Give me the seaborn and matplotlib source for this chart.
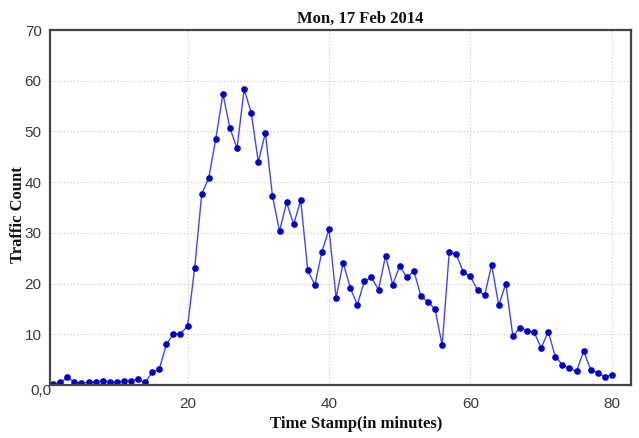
import matplotlib
matplotlib.use("Agg")
import matplotlib.pyplot as plt
import seaborn as sns
import pandas as pd

# Traffic count per minute, Mon 17 Feb 2014
minutes = list(range(1, 81))
traffic = [
    0.2, 0.5, 1.5, 0.6, 0.3, 0.6, 0.55, 0.85, 0.55, 0.55,
    0.8, 0.85, 1.1, 0.5, 2.5, 3.1, 8.0, 10.1, 10.1, 11.6,
    23.0, 37.6, 40.9, 48.6, 57.4, 50.6, 46.7, 58.3, 53.7, 44.0,
    49.7, 37.3, 30.3, 36.0, 31.7, 36.4, 22.6, 19.7, 26.3, 30.7,
    17.2, 24.1, 19.2, 15.8, 20.5, 21.2, 18.8, 25.5, 19.8, 23.5,
    21.2, 22.5, 17.5, 16.4, 14.9, 7.8, 26.2, 25.8, 22.2, 21.4,
    18.7, 17.7, 23.7, 15.7, 20.0, 9.6, 11.3, 10.7, 10.4, 7.3,
    10.5, 5.6, 4.0, 3.3, 2.7, 6.7, 3.0, 2.4, 1.6, 2.0,
]
x_ticks = [20, 40, 60, 80]
y_ticks = [10, 20, 30, 40, 50, 60, 70]

df = pd.DataFrame({"minute": minutes, "count": traffic})

sns.set_theme(style="white")
plt.rcParams["font.family"] = ["Liberation Sans", "DejaVu Sans"]

fig = plt.figure(figsize=(6.39, 4.38), dpi=100)
ax = fig.add_axes([50 / 639, 1 - 385 / 438, 581 / 639, 355 / 438])

sns.lineplot(
    data=df, x="minute", y="count", ax=ax,
    color="#4646e6", linewidth=1.0,
    marker="o", markersize=4.8, markerfacecolor="#0000c8",
    markeredgecolor="#0000c8", markeredgewidth=0,
)

ax.set_xlim(0.55, 82.7)
ax.set_ylim(0, 70)
ax.set_xticks(x_ticks)
ax.set_yticks(y_ticks)
ax.tick_params(axis="both", length=0, labelsize=11, labelcolor="#3a3a3a")
ax.tick_params(axis="x", pad=9)
ax.tick_params(axis="y", pad=6)

ax.grid(True, color="#cfcfcf", linestyle=(0, (1.2, 1.8)), linewidth=0.8)
ax.set_axisbelow(True)
for s in ax.spines.values():
    s.set_visible(True)
    s.set_color("#444444")
    s.set_linewidth(1.6)

serif = ["Liberation Serif", "DejaVu Serif"]
ax.set_xlabel("Time Stamp(in minutes)", family=serif, fontweight="bold",
              fontsize=12, color="#111111")
ax.set_ylabel("Traffic Count", family=serif, fontweight="bold",
              fontsize=12, color="#111111")
ax.xaxis.set_label_coords(0.527, -0.088)
ax.yaxis.set_label_coords(-0.041, 0.48)

fig.text(360 / 639, 1 - 19 / 438, "Mon, 17 Feb 2014", family=serif,
         fontweight="bold", fontsize=12, ha="center", va="center",
         color="#111111")
fig.text(41 / 639, 1 - 391 / 438, "0,0", fontsize=11, color="#3a3a3a",
         ha="center", va="center")

fig.savefig("out.png", dpi=100)
